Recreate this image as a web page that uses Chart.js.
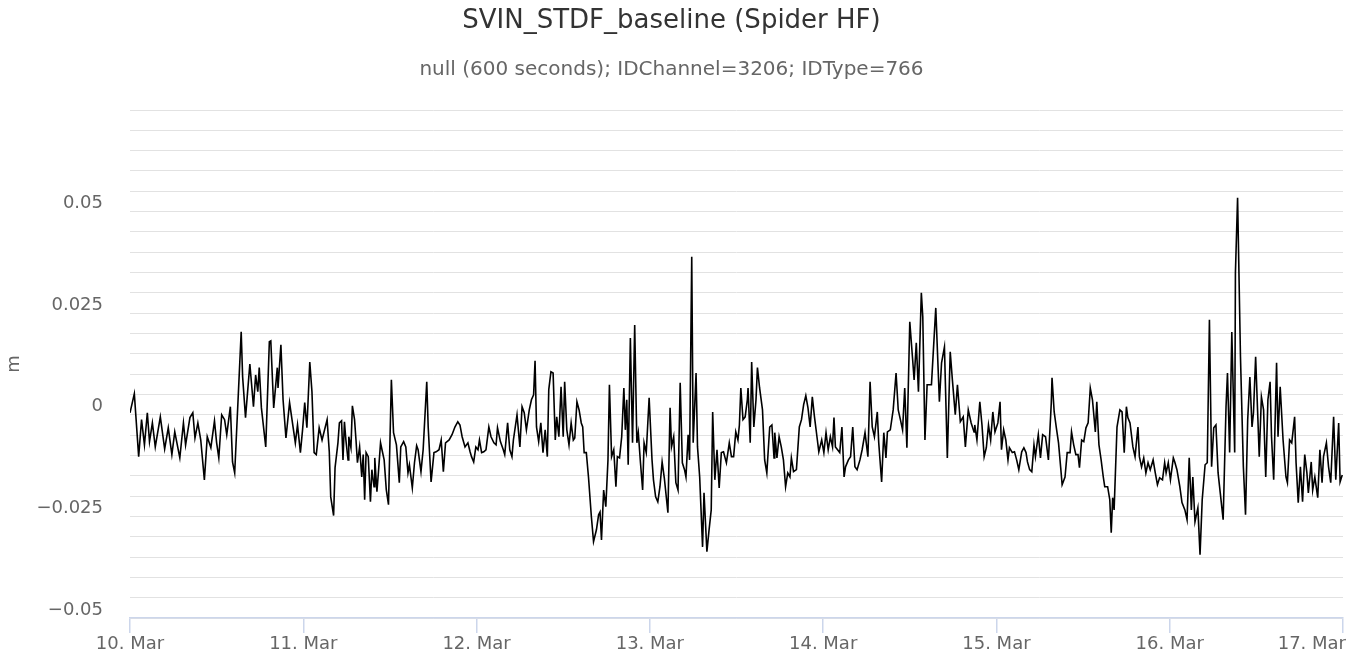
<!DOCTYPE html>
<html>
<head>
<meta charset="utf-8">
<title>SVIN_STDF_baseline (Spider HF)</title>
<script src="https://cdn.jsdelivr.net/npm/chart.js@4.4.1/dist/chart.umd.min.js"></script>
<style>
    html, body { margin: 0; padding: 0; background: #fff; }
    canvas { display: block; }
</style>
</head>
<body>
<canvas id="myChart" width="1360" height="657"></canvas>
<script>
// hours after 10 Mar 00:00 and the baseline value (m)
let hours = [
    0.0,0.6,1.2,1.6,2.0,2.4,2.7,3.1,3.5,4.2,4.8,5.3,5.8,6.2,6.9,7.4,7.7,8.3,8.7,9.0,
    9.4,9.8,10.3,10.7,11.2,11.7,12.0,12.3,12.7,13.1,13.4,13.9,14.2,14.5,15.4,15.6,16.0,16.6,17.1,17.4,
    17.7,17.9,18.2,18.8,19.3,19.5,19.9,20.4,20.5,20.9,21.2,21.6,22.1,22.9,23.2,23.6,23.9,24.2,24.5,24.9,
    25.2,25.5,25.8,26.2,26.6,27.3,27.6,27.8,28.2,28.4,28.8,29.0,29.3,29.5,29.7,29.9,30.2,30.3,30.6,30.8,
    31.1,31.3,31.5,31.8,32.1,32.3,32.5,32.7,33.0,33.3,33.5,33.8,33.9,34.2,34.4,34.7,34.9,35.2,35.5,35.8,
    36.2,36.5,36.9,37.3,37.5,37.9,38.2,38.5,38.7,39.1,39.4,39.7,39.9,40.3,40.6,41.1,41.3,41.7,42.1,42.4,
    42.8,43.1,43.4,43.7,44.2,44.6,45.0,45.4,45.7,46.0,46.4,46.8,47.1,47.3,47.6,47.9,48.2,48.4,48.7,49.0,
    49.3,49.7,50.0,50.4,50.7,50.9,51.3,51.7,51.9,52.3,52.6,52.9,53.1,53.6,54.0,54.3,54.6,54.9,55.3,55.6,
    55.9,56.1,56.3,56.6,56.9,57.2,57.5,57.8,58.0,58.3,58.6,58.9,59.1,59.4,59.7,60.0,60.2,60.5,60.8,61.1,
    61.4,61.6,61.9,62.2,62.5,62.7,62.9,63.2,63.5,63.9,64.2,64.6,64.9,65.1,65.3,65.6,65.9,66.2,66.4,66.7,
    67.0,67.3,67.5,67.8,68.1,68.4,68.6,68.8,69.0,69.3,69.6,69.9,70.2,70.4,70.7,71.0,71.2,71.5,71.9,72.3,
    72.5,72.8,73.1,73.4,73.7,74.0,74.5,74.8,75.0,75.3,75.6,75.9,76.2,76.5,76.8,77.0,77.3,77.5,77.8,78.0,
    78.4,78.6,78.9,79.3,79.5,79.9,80.2,80.5,80.7,81.0,81.3,81.6,81.9,82.2,82.6,83.0,83.3,83.6,83.9,84.2,
    84.4,84.6,84.9,85.2,85.5,85.6,85.9,86.1,86.4,86.7,86.9,87.2,87.6,87.9,88.2,88.6,88.9,89.2,89.3,89.6,
    89.9,90.2,90.5,90.8,91.1,91.4,91.6,91.9,92.3,92.7,93.0,93.3,93.6,93.9,94.2,94.5,94.8,95.2,95.4,95.8,
    96.1,96.4,96.7,97.0,97.3,97.5,97.7,98.0,98.3,98.6,98.9,99.1,99.5,99.8,100.1,100.4,100.7,101.1,101.4,101.8,
    102.2,102.5,102.8,103.1,103.5,103.7,104.1,104.4,104.7,104.9,105.3,105.7,106.1,106.4,106.7,107.0,107.3,107.6,108.0,108.4,
    108.6,108.9,109.2,109.6,109.8,110.1,110.4,111.0,111.6,112.1,112.4,112.8,113.2,113.6,113.9,114.3,114.6,115.0,115.4,115.7,
    116.1,116.5,116.9,117.0,117.3,117.7,118.0,118.3,118.6,118.9,119.2,119.5,119.8,120.2,120.5,120.7,121.0,121.3,121.6,121.8,
    122.2,122.5,122.8,123.1,123.5,123.8,124.1,124.3,124.6,124.9,125.2,125.4,125.8,126.1,126.4,126.8,127.2,127.6,127.7,128.0,
    128.3,128.6,128.9,129.1,129.5,129.8,130.2,130.4,130.7,131.0,131.3,131.5,131.8,132.1,132.4,132.7,133.0,133.3,133.7,133.9,
    134.2,134.5,134.8,135.0,135.4,135.7,135.9,136.1,136.3,136.7,137.1,137.4,137.7,138.0,138.2,138.5,138.9,139.2,139.6,139.8,
    140.1,140.4,140.7,141.0,141.3,141.7,142.0,142.3,142.6,143.0,143.3,143.5,143.8,144.1,144.5,144.7,145.0,145.4,145.7,146.1,
    146.4,146.7,147.0,147.2,147.5,147.9,148.2,148.5,148.9,149.2,149.5,149.8,150.1,150.4,150.7,151.0,151.4,151.8,152.0,152.3,
    152.6,153.0,153.1,153.4,153.8,154.2,154.5,154.8,155.1,155.4,155.6,155.9,156.4,156.7,157.0,157.3,157.6,157.9,158.1,158.4,
    158.8,159.0,159.3,159.7,160.1,160.3,160.6,160.9,161.3,161.5,161.8,162.1,162.4,162.7,163.0,163.2,163.6,163.8,164.1,164.5,
    164.8,165.1,165.3,165.7,166.0,166.3,166.7,167.0,167.4,167.6,167.9
]

let values = [
    0.0005,0.0052,-0.0103,-0.0012,-0.0074,0.0005,-0.0066,-0.0020,-0.0079,-0.0005,-0.0084,-0.0032,-0.0098,-0.0042,-0.0106,-0.0020,-0.0074,-0.0007,0.0005,-0.0057,
    -0.0020,-0.0062,-0.0160,-0.0054,-0.0081,-0.0015,-0.0069,-0.0106,0.0000,-0.0012,-0.0049,0.0020,-0.0116,-0.0143,0.0204,0.0093,-0.0007,0.0125,0.0020,0.0098,
    0.0057,0.0116,0.0017,-0.0079,0.0180,0.0182,0.0017,0.0116,0.0066,0.0172,0.0037,-0.0057,0.0030,-0.0069,-0.0025,-0.0093,-0.0037,0.0030,-0.0032,0.0130,
    0.0057,-0.0093,-0.0098,-0.0032,-0.0062,-0.0012,-0.0091,-0.0202,-0.0248,-0.0130,-0.0069,-0.0020,-0.0015,-0.0111,-0.0017,-0.0062,-0.0111,-0.0054,-0.0081,0.0022,
    -0.0012,-0.0062,-0.0118,-0.0079,-0.0153,-0.0098,-0.0209,-0.0093,-0.0103,-0.0214,-0.0135,-0.0177,-0.0106,-0.0189,-0.0143,-0.0069,-0.0086,-0.0111,-0.0185,-0.0221,
    0.0086,-0.0044,-0.0074,-0.0167,-0.0079,-0.0066,-0.0079,-0.0143,-0.0123,-0.0180,-0.0118,-0.0076,-0.0086,-0.0140,-0.0086,0.0081,-0.0030,-0.0165,-0.0093,-0.0091,
    -0.0086,-0.0062,-0.0140,-0.0069,-0.0062,-0.0049,-0.0030,-0.0017,-0.0025,-0.0054,-0.0079,-0.0069,-0.0091,-0.0103,-0.0116,-0.0079,-0.0086,-0.0062,-0.0093,-0.0091,
    -0.0086,-0.0030,-0.0054,-0.0069,-0.0074,-0.0032,-0.0066,-0.0086,-0.0098,-0.0020,-0.0086,-0.0103,-0.0062,0.0000,-0.0079,0.0020,0.0005,-0.0037,0.0012,0.0037,
    0.0049,0.0133,-0.0030,-0.0066,-0.0020,-0.0093,-0.0037,-0.0103,0.0062,0.0106,0.0103,-0.0062,-0.0005,-0.0054,0.0069,-0.0054,0.0081,-0.0037,-0.0074,-0.0020,
    -0.0062,-0.0057,0.0032,0.0012,-0.0020,-0.0030,-0.0093,-0.0093,-0.0153,-0.0251,-0.0312,-0.0283,-0.0246,-0.0239,-0.0308,-0.0185,-0.0226,-0.0111,0.0074,-0.0103,
    -0.0086,-0.0177,-0.0103,-0.0106,-0.0054,0.0066,-0.0037,0.0037,-0.0123,0.0189,-0.0069,0.0221,-0.0069,-0.0044,-0.0118,-0.0185,-0.0069,-0.0093,0.0042,-0.0111,
    -0.0160,-0.0202,-0.0214,-0.0177,-0.0116,-0.0155,-0.0241,0.0017,-0.0079,-0.0054,-0.0167,-0.0185,0.0079,-0.0118,-0.0135,-0.0153,-0.0049,-0.0111,0.0389,-0.0069,
    0.0103,-0.0079,-0.0153,-0.0325,-0.0192,-0.0337,-0.0283,-0.0234,0.0007,-0.0160,-0.0086,-0.0180,-0.0093,-0.0091,-0.0118,-0.0069,-0.0103,-0.0103,-0.0042,-0.0062,
    -0.0025,0.0066,-0.0012,-0.0005,0.0037,0.0066,-0.0069,0.0130,-0.0030,0.0037,0.0116,0.0066,0.0012,-0.0111,-0.0143,-0.0030,-0.0025,-0.0106,-0.0044,-0.0106,
    -0.0054,-0.0079,-0.0111,-0.0177,-0.0143,-0.0153,-0.0106,-0.0140,-0.0135,-0.0030,-0.0012,0.0025,0.0047,0.0017,-0.0030,0.0044,-0.0005,-0.0062,-0.0091,-0.0062,
    -0.0093,-0.0044,-0.0086,-0.0054,-0.0079,-0.0007,-0.0079,-0.0086,-0.0093,-0.0030,-0.0153,-0.0128,-0.0111,-0.0103,-0.0030,-0.0128,-0.0135,-0.0111,-0.0086,-0.0044,
    -0.0103,0.0081,-0.0030,-0.0054,0.0007,-0.0069,-0.0165,-0.0044,-0.0106,-0.0042,-0.0037,0.0012,0.0103,0.0012,-0.0012,-0.0037,0.0066,-0.0081,0.0229,0.0135,
    0.0086,0.0177,0.0057,0.0300,0.0241,-0.0062,0.0074,0.0074,0.0263,0.0032,0.0128,0.0167,-0.0106,0.0155,0.0086,0.0000,0.0074,-0.0017,-0.0005,-0.0079,
    0.0012,-0.0020,-0.0042,-0.0025,-0.0062,0.0032,-0.0025,-0.0103,-0.0081,-0.0025,-0.0062,0.0007,-0.0042,-0.0020,0.0032,-0.0086,-0.0037,-0.0062,-0.0111,-0.0081,
    -0.0093,-0.0091,-0.0111,-0.0135,-0.0091,-0.0081,-0.0093,-0.0116,-0.0135,-0.0140,-0.0074,-0.0103,-0.0049,-0.0106,-0.0049,-0.0054,-0.0111,0.0030,0.0091,0.0007,
    -0.0032,-0.0069,-0.0130,-0.0172,-0.0153,-0.0093,-0.0093,-0.0042,-0.0074,-0.0098,-0.0098,-0.0130,-0.0062,-0.0066,-0.0032,-0.0020,0.0066,0.0037,-0.0042,0.0032,
    -0.0074,-0.0111,-0.0153,-0.0177,-0.0177,-0.0209,-0.0290,-0.0204,-0.0234,-0.0030,0.0012,0.0007,-0.0093,0.0020,-0.0007,-0.0020,-0.0079,-0.0103,-0.0030,-0.0103,
    -0.0128,-0.0106,-0.0143,-0.0118,-0.0135,-0.0111,-0.0143,-0.0172,-0.0155,-0.0160,-0.0118,-0.0143,-0.0118,-0.0160,-0.0106,-0.0116,-0.0135,-0.0177,-0.0216,-0.0234,
    -0.0258,-0.0106,-0.0234,-0.0153,-0.0263,-0.0229,-0.0344,-0.0209,-0.0123,-0.0118,0.0234,-0.0128,-0.0032,-0.0025,-0.0143,-0.0192,-0.0258,0.0020,0.0103,-0.0093,
    0.0204,-0.0093,0.0349,0.0534,0.0143,-0.0128,-0.0246,-0.0012,0.0093,-0.0030,0.0005,0.0143,-0.0103,0.0044,0.0012,-0.0153,0.0037,0.0081,-0.0054,-0.0160,
    0.0128,-0.0054,0.0069,-0.0062,-0.0153,-0.0167,-0.0062,-0.0069,-0.0005,-0.0118,-0.0216,-0.0128,-0.0214,-0.0098,-0.0143,-0.0192,-0.0116,-0.0185,-0.0153,-0.0204,
    -0.0086,-0.0167,-0.0103,-0.0069,-0.0128,-0.0167,-0.0005,-0.0160,-0.0020,-0.0165,-0.0148
]

let dayLabels = ['10. Mar', '11. Mar', '12. Mar', '13. Mar', '14. Mar', '15. Mar', '16. Mar', '17. Mar']
let yTickValues = [-0.05, -0.025, 0, 0.025, 0.05]
let yTickLabels = ['\u22120.05', '\u22120.025', '0', '0.025', '0.05']

Chart.defaults.font.family = '"DejaVu Sans", sans-serif'
Chart.defaults.color = '#666666'

// x labels are drawn by hand so the last one can be pulled inside the canvas
let dayLabelPlugin = {
    id: 'dayLabels',
    afterDraw(chart) {
        let ctx = chart.ctx
        let xScale = chart.scales.x
        ctx.save()
        ctx.font = '18px "DejaVu Sans", sans-serif'
        ctx.fillStyle = '#666666'
        ctx.textBaseline = 'middle'
        ctx.textAlign = 'left'
        for (let i = 0; i < dayLabels.length; i++) {
            let px = xScale.getPixelForValue(i * 24)
            let w = ctx.measureText(dayLabels[i]).width
            let left = px - w / 2
            if (left + w > chart.width - 14) {
                left = chart.width - 14 - w
            }
            ctx.fillText(dayLabels[i], left, xScale.top + 26)
        }
        ctx.restore()
    }
}

function createChart(){
    let ctx = document.getElementById('myChart').getContext('2d')
    let points = []
    for (let i = 0; i < hours.length; i++){
        points.push({x: hours[i], y: values[i]})
    }

    new Chart(ctx, {
        type: 'line',
        data: {
            datasets: [{
                label: 'SVIN_STDF_baseline',
                data: points,
                borderColor: '#000000',
                borderWidth: 1.6,
                pointRadius: 0,
                tension: 0,
                fill: false
            }]
        },
        options: {
            responsive: false,
            animation: false,
            devicePixelRatio: 1,
            layout: {padding: {left: 0, right: 17, top: 0, bottom: 0}},
            plugins: {
                legend: {display: false},
                tooltip: {enabled: false},
                title: {
                    display: true,
                    text: 'SVIN_STDF_baseline (Spider HF)',
                    color: '#333333',
                    font: {size: 26, weight: 'normal'},
                    padding: {top: 6, bottom: 21}
                },
                subtitle: {
                    display: true,
                    text: 'null (600 seconds); IDChannel=3206; IDType=766',
                    color: '#666666',
                    font: {size: 20, weight: 'normal'},
                    padding: {top: 0, bottom: 27.8}
                }
            },
            scales: {
                x: {
                    type: 'linear',
                    min: 0,
                    max: 168,
                    ticks: {display: false, stepSize: 24, autoSkip: false},
                    grid: {
                        drawOnChartArea: false,
                        drawTicks: true,
                        tickLength: 15,
                        color: '#ccd6eb',
                        lineWidth: 1.5
                    },
                    border: {display: true, color: '#ccd6eb', width: 1.5},
                    afterFit(scale) {
                        scale.height = 39
                        scale.paddingLeft = 0
                        scale.paddingRight = 0
                    }
                },
                y: {
                    min: -0.05,
                    max: 0.075,
                    ticks: {
                        stepSize: 0.005,
                        autoSkip: false,
                        padding: 27,
                        labelOffset: -8,
                        color: '#666666',
                        font: {size: 18},
                        callback: function (value) {
                            for (let i = 0; i < yTickValues.length; i++){
                                if (Math.abs(value - yTickValues[i]) < 1e-6){
                                    return yTickLabels[i]
                                }
                            }
                            return ''
                        }
                    },
                    grid: {color: '#e2e2e2', lineWidth: 1, drawTicks: false},
                    border: {display: false},
                    title: {
                        display: true,
                        text: 'm',
                        color: '#666666',
                        font: {size: 18},
                        padding: {top: 4, bottom: 0}
                    },
                    afterFit(scale) {
                        scale.width = 130
                        scale.paddingTop = 0
                        scale.paddingBottom = 0
                    }
                }
            }
        },
        plugins: [dayLabelPlugin]
    })
}

createChart()
</script>
</body>
</html>
